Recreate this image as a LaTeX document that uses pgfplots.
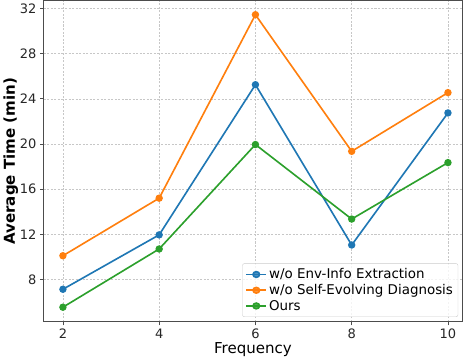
\documentclass[border=0pt]{standalone}
\usepackage{pgfplots}
\pgfplotsset{compat=1.18}
\usepackage{fontspec}
\setmainfont{DejaVu Sans}
\definecolor{tblue}{HTML}{1F77B4}
\definecolor{torange}{HTML}{FF7F0E}
\definecolor{tgreen}{HTML}{2CA02C}
\begin{document}
\begin{tikzpicture}
\begin{axis}[
  scale only axis,
  width=412pt, height=316pt,
  xmin=1.6, xmax=10.3,
  ymin=4.25, ymax=32.7,
  xtick={2,4,6,8,10},
  ytick={8,12,16,20,24,28,32},
  tick align=outside,
  tick pos=left,
  major tick length=3.5pt,
  every tick/.style={black!70, line width=0.8pt},
  axis line style={black!70, line width=1.2pt},
  grid=major,
  grid style={dash pattern=on 2pt off 1.5pt, black!22, line width=0.5pt},
  /pgf/number format/assume math mode=true,
  ticklabel style={font=\fontsize{12.8}{14}\selectfont, text=black!85},
  xlabel={Frequency},
  ylabel={\bfseries Average Time (min)},
  label style={font=\fontsize{14.8}{16}\selectfont},
  xlabel style={yshift=3pt},
  ylabel style={yshift=-5pt},
  legend style={at={(0.99,0.015)}, anchor=south east, font=\fontsize{13.2}{15}\selectfont,
    draw=black!20, rounded corners=2pt, fill=white, fill opacity=0.8, text opacity=1,
    row sep=0pt, inner sep=3pt},
  legend cell align=left,
  legend image post style={xscale=1.15},
  every axis plot/.append style={line width=1.6pt, mark=*, mark size=2.8pt},
]
\addplot[color=tblue, mark options={fill=tblue}] coordinates {(2,7.13) (4,11.95) (6,25.25) (8,11.05) (10,22.75)};
\addlegendentry{w/o Env-Info Extraction}
\addplot[color=torange, mark options={fill=torange}] coordinates {(2,10.1) (4,15.2) (6,31.45) (8,19.35) (10,24.55)};
\addlegendentry{w/o Self-Evolving Diagnosis}
\addplot[color=tgreen, mark options={fill=tgreen}] coordinates {(2,5.54) (4,10.7) (6,19.95) (8,13.35) (10,18.35)};
\addlegendentry{Ours}
\end{axis}
\end{tikzpicture}
\end{document}
